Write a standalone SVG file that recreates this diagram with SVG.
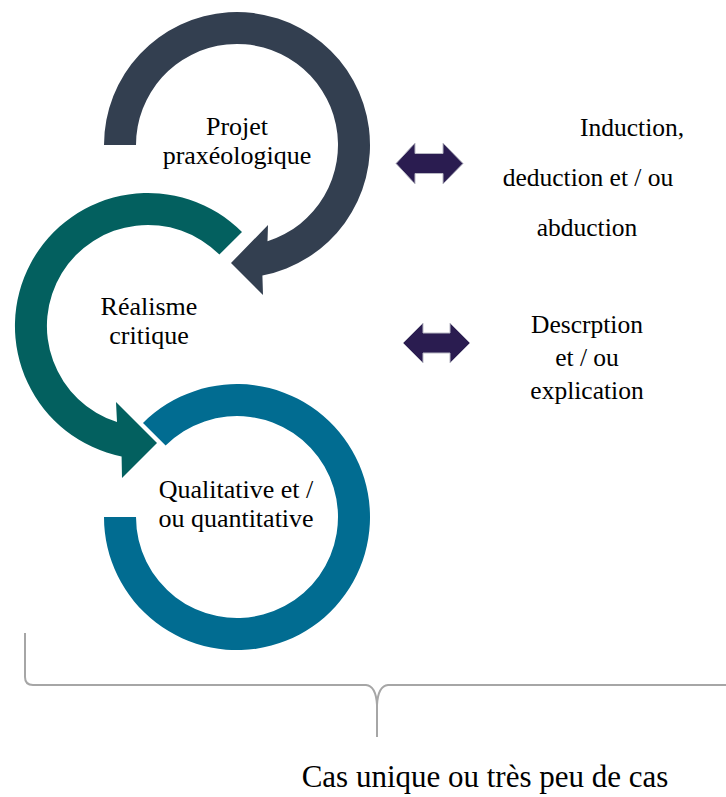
<svg xmlns="http://www.w3.org/2000/svg" width="726" height="797" viewBox="0 0 726 797">
<style>
text{font-family:"Liberation Serif","Times New Roman",serif;fill:#000;}
.lbl{font-size:26px;text-anchor:middle;}
.side{font-size:25.5px;text-anchor:middle;}
.dbl{fill:#2A1C50;stroke:#B8B8C4;stroke-width:1;}
</style>
<rect width="726" height="797" fill="#fff"/>
<g id="node-projet">
<path d="M 104 145 A 133 133 0 1 1 262.4 275.6 L 263 295 L 231 263 L 268 225 L 267.5 241.3 A 101 101 0 1 0 136 145 Z" fill="#333F50"/>
<text class="lbl" x="237" y="135">Projet</text>
<text class="lbl" x="237" y="164">praxéologique</text>
</g>
<g id="node-realisme">
<path d="M 242 232 A 133 133 0 1 0 121.6 456.4 L 122 478 L 157 443 L 116 402 L 117 422.1 A 101 101 0 1 1 219.4 254.6 Z" fill="#03605F"/>
<text class="lbl" x="149" y="315">Réalisme</text>
<text class="lbl" x="149" y="344">critique</text>
</g>
<g id="node-quali">
<path d="M 143 423 A 133 133 0 1 1 104 517 L 136 517 A 101 101 0 1 0 165.6 445.6 Z" fill="#016C91"/>
<text class="lbl" x="236" y="498">Qualitative et /</text>
<text class="lbl" x="236" y="527">ou quantitative</text>
</g>
<g id="node-induction">
<text class="side" x="580" y="136" style="text-anchor:start">Induction,</text>
<text class="side" x="588" y="186">deduction et / ou</text>
<text class="side" x="587" y="236">abduction</text>
</g>
<g id="node-description">
<text class="side" x="587" y="333">Descrption</text>
<text class="side" x="587" y="366">et / ou</text>
<text class="side" x="587" y="399">explication</text>
</g>
<g id="node-cas">
<text x="485" y="787" style="font-size:31px;text-anchor:middle">Cas unique ou très peu de cas</text>
</g>
<g id="connectors">
<path class="dbl" d="M 396 163.5 L 415 143 L 415 153.5 L 443 153.5 L 443 143 L 463 163.5 L 443 184 L 443 173.5 L 415 173.5 L 415 184 Z"/>
<path class="dbl" d="M 403 343 L 423 323 L 423 333 L 450 333 L 450 323 L 470 343 L 450 363 L 450 353 L 423 353 L 423 363 Z"/>
<path d="M 25 633 V 677 Q 25 685 33 685 H 366 Q 376 686 377 705 V 737 M 377 705 Q 378 686 388 685 H 728" fill="none" stroke="#A6A6A6" stroke-width="2"/>
</g>
</svg>
